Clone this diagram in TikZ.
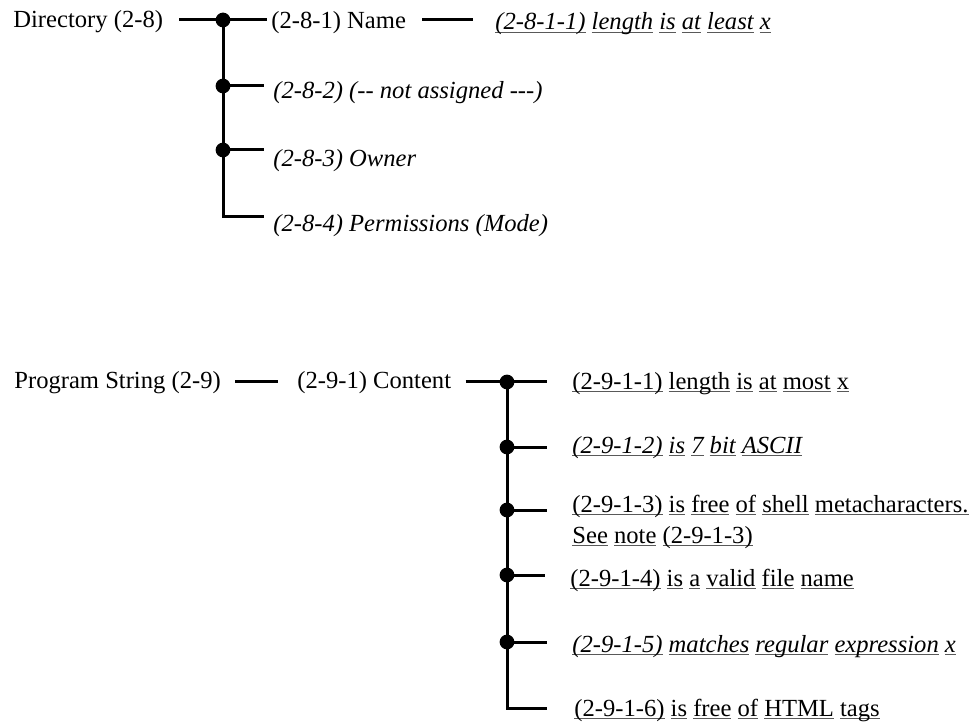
\documentclass[tikz,border=0pt]{standalone}
\usepackage{fontspec}
\setmainfont{Liberation Serif}
\usetikzlibrary{positioning}

% underline one word at a fixed depth
\newcommand{\uw}[1]{\setbox0=\hbox{#1}\rlap{\color{black!65}\rule[-1.4pt]{\wd0}{0.5pt}}\box0\relax}

\begin{document}
\begin{tikzpicture}[
  x=0.5pt, y=-0.5pt,
  font=\fontsize{12.3}{15.5}\selectfont,
  txt/.style={inner sep=0pt, anchor=base west, align=left},
  itl/.style={txt, font=\fontsize{12.3}{15.5}\selectfont\itshape},
  jn/.style={circle, fill=black, inner sep=0pt, minimum size=7.4pt},
  wire/.style={draw=black, line width=1.5pt}
]
\useasboundingbox (0,0) rectangle (971,722);

% Directory (2-8)
\node[txt] (dir)  at (13,28)   {Directory (2-8)};
\node[jn]  (j81)  at (223,20)  {};
\node[jn]  (j82)  at (223,86)  {};
\node[jn]  (j83)  at (223,150) {};
\coordinate (j84) at (223,217);
\node[txt] (n81)  at (271,29)  {(2-8-1) Name};
\node[itl] (n811) at (495,30)  {\uw{(2-8-1-1)} \uw{length} \uw{is} \uw{at} \uw{least} \uw{x}};
\node[itl] (n82)  at (273,99)  {(2-8-2) (-{}- not assigned -{}-{}-)};
\node[itl] (n83)  at (273,167) {(2-8-3) Owner};
\node[itl] (n84)  at (273,232) {(2-8-4) Permissions (Mode)};

\draw[wire] ([xshift=8pt]dir.east |- j81) -- (j81.center) -- ([xshift=-2pt]n81.west |- j81);
\draw[wire] ([xshift=8pt]n81.east |- j81) -- ([xshift=-11pt]n811.west |- j81);
\draw[wire] (j81.center) -- (j84) -- ([xshift=-4.5pt]n84.west |- j84);
\foreach \j/\n in {j82/n82, j83/n83}
  \draw[wire] (\j.center) -- ([xshift=-4.5pt]\n.west |- \j);

% Program String (2-9)
\node[txt] (prg) at (14,388)  {Program String (2-9)};
\node[txt] (cnt) at (297,388) {(2-9-1) Content};
\node[jn]  (j91) at (507,382) {};
\node[jn]  (j92) at (507,447) {};
\node[jn]  (j93) at (507,510) {};
\node[jn]  (j94) at (507,575) {};
\node[jn]  (j95) at (507,642) {};
\coordinate (j96) at (507,708);
\node[txt] (n91) at (572,389) {\uw{(2-9-1-1)} \uw{length} \uw{is} \uw{at} \uw{most} \uw{x}};
\node[itl] (n92) at (572,453) {\uw{(2-9-1-2)} \uw{is} \uw{7} \uw{bit} \uw{ASCII}};
% base of a two-line node is its last line
\node[txt] (n93) at (572,543) {\uw{(2-9-1-3)} \uw{is} \uw{free} \uw{of} \uw{shell} \uw{metacharacters.}\\
                               \uw{See} \uw{note} \uw{(2-9-1-3)}};
\node[txt] (n94) at (570,586) {\uw{(2-9-1-4)} \uw{is} \uw{a} \uw{valid} \uw{file} \uw{name}};
\node[itl] (n95) at (572,652) {\uw{(2-9-1-5)} \uw{matches} \uw{regular} \uw{expression} \uw{x}};
\node[txt] (n96) at (574,716) {\uw{(2-9-1-6)} \uw{is} \uw{free} \uw{of} \uw{HTML} \uw{tags}};

\draw[wire] ([xshift=7pt]prg.east |- j91) -- ([xshift=-9.5pt]cnt.west |- j91);
\draw[wire] ([xshift=7pt]cnt.east |- j91) -- (j91.center) -- ([xshift=-12.5pt]n91.west |- j91);
\draw[wire] (j91.center) -- (j96) -- ([xshift=-13.5pt]n96.west |- j96);
\foreach \j/\n in {j92/n92, j93/n93, j94/n94, j95/n95}
  \draw[wire] (\j.center) -- ([xshift=-12.5pt]\n.west |- \j);
\end{tikzpicture}
\end{document}
